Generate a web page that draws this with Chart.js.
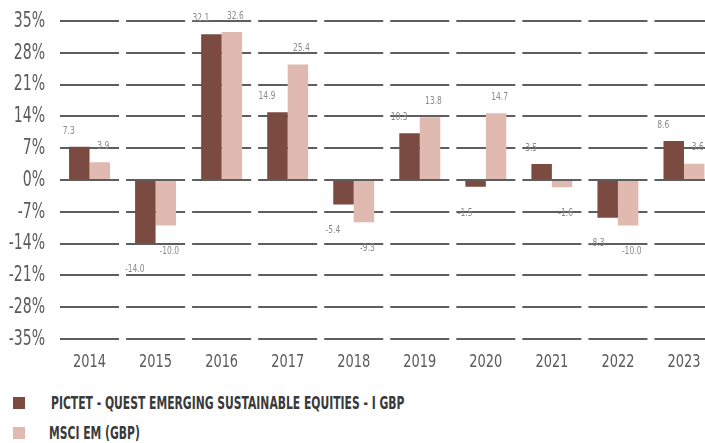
<!DOCTYPE html>
<html>
<head>
<meta charset="utf-8">
<script src="https://cdn.jsdelivr.net/npm/chart.js@4/dist/chart.umd.min.js"></script>
<style>
    body { margin: 0; background: #fff; overflow: hidden; width: 705px; height: 443px; position: relative; }
    #wrap { position: absolute; left: 0; top: 0; width: 717px; height: 385px; }
    .legend-box { position: absolute; width: 12px; height: 12px; }
    .legend-text { position: absolute; height: 22px; line-height: 22px; white-space: nowrap;
        font-family: "DejaVu Sans Condensed", sans-serif; font-weight: bold; font-size: 17px; color: #3a3a3a;
        transform: scaleX(0.705); transform-origin: left center; }
</style>
</head>
<body>
<div id="wrap"><canvas id="perf-chart" width="717" height="385"></canvas></div>
<div id="legend"></div>
<script>
const years = ['2014', '2015', '2016', '2017', '2018', '2019', '2020', '2021', '2022', '2023'];
const fundName = 'PICTET - QUEST EMERGING SUSTAINABLE EQUITIES - I GBP';
const indexName = 'MSCI EM (GBP)';
const fundValues = [7.3, -14.0, 32.1, 14.9, -5.4, 10.3, -1.5, 3.5, -8.3, 8.6];
const indexValues = [3.9, -10.0, 32.6, 25.4, -9.3, 13.8, 14.7, -1.6, -10.0, 3.6];
const yTicks = [-35, -28, -21, -14, -7, 0, 7, 14, 21, 28, 35];

const FONT = '"DejaVu Sans Condensed", sans-serif';

// draw text squeezed horizontally (the original uses a narrow typeface)
function narrowText(ctx, text, x, y, sx) {
    ctx.save();
    ctx.scale(sx, 1);
    ctx.fillText(text, x / sx, y);
    ctx.restore();
}

// cut the horizontal grid lines into one segment per year
const gridGaps = {
    id: 'gridGaps',
    beforeDatasetsDraw(chart) {
        const ctx = chart.ctx;
        const area = chart.chartArea;
        const x = chart.scales.x;
        ctx.save();
        ctx.fillStyle = '#ffffff';
        for (let i = 0; i <= years.length; i++) {
            let bx;
            if (i === 0) bx = area.left;
            else if (i === years.length) bx = area.right;
            else bx = (x.getPixelForValue(i - 1) + x.getPixelForValue(i)) / 2;
            ctx.fillRect(bx - 3.5, area.top - 3, 7, area.bottom - area.top + 6);
        }
        ctx.restore();
    }
};

// axis tick labels, placed with the chart's own scales
const narrowTicks = {
    id: 'narrowTicks',
    afterDraw(chart) {
        const ctx = chart.ctx;
        const area = chart.chartArea;
        const xs = chart.scales.x;
        const ys = chart.scales.y;
        ctx.save();
        ctx.fillStyle = '#5a5a5a';
        ctx.textBaseline = 'middle';

        ctx.font = '18px ' + FONT;
        ctx.textAlign = 'center';
        xs.ticks.forEach((t, i) => {
            narrowText(ctx, xs.getLabelForValue(t.value), xs.getPixelForTick(i), area.bottom + 23, 0.8);
        });

        ctx.font = '22px ' + FONT;
        ctx.textAlign = 'right';
        ys.ticks.forEach((t, i) => {
            narrowText(ctx, t.value + '%', area.left - 11.5, ys.getPixelForTick(i), 0.71);
        });
        ctx.restore();
    }
};

// value labels above / below the bars
const valueLabels = {
    id: 'valueLabels',
    afterDatasetsDraw(chart) {
        const ctx = chart.ctx;
        const shiftX = [-10.5, 3.5];
        ctx.save();
        ctx.font = '10.5px ' + FONT;
        ctx.fillStyle = '#8a8a8a';
        ctx.textAlign = 'center';
        ctx.textBaseline = 'middle';
        chart.data.datasets.forEach((ds, di) => {
            chart.getDatasetMeta(di).data.forEach((bar, i) => {
                const v = ds.data[i];
                const y = v >= 0 ? bar.y - 16 : bar.y + 26;
                narrowText(ctx, v.toFixed(1), bar.x + shiftX[di], y, 0.8);
            });
        });
        ctx.restore();
    }
};

const ctx = document.getElementById('perf-chart').getContext('2d');
const perfChart = new Chart(ctx, {
    type: 'bar',
    data: {
        labels: years,
        datasets: [
            {
                label: fundName,
                data: fundValues,
                backgroundColor: '#7b4a41',
                barPercentage: 1,
                categoryPercentage: 0.62
            },
            {
                label: indexName,
                data: indexValues,
                backgroundColor: '#e0b9b0',
                barPercentage: 1,
                categoryPercentage: 0.62
            }
        ]
    },
    options: {
        responsive: false,
        animation: false,
        layout: {
            padding: { top: 21, right: 0, left: 0, bottom: 0 }
        },
        plugins: {
            legend: { display: false },
            tooltip: { enabled: false }
        },
        scales: {
            x: {
                grid: { display: false },
                border: { display: false },
                ticks: { display: false },
                afterFit(scale) { scale.height = 46; }
            },
            y: {
                min: -35,
                max: 35,
                afterBuildTicks(scale) {
                    scale.ticks = yTicks.map(v => ({ value: v }));
                },
                grid: {
                    color: '#5e5e5e',
                    lineWidth: 2,
                    drawTicks: false
                },
                border: { display: false },
                ticks: { display: false },
                afterFit(scale) { scale.width = 56.5; }
            }
        }
    },
    plugins: [gridGaps, narrowTicks, valueLabels]
});

// legend built from the chart datasets
const legendPos = [
    { box: [13, 397], text: [51, 403] },
    { box: [13, 427], text: [49, 433] }
];
const legendDiv = document.getElementById('legend');
perfChart.data.datasets.forEach((ds, i) => {
    const p = legendPos[i];
    const box = document.createElement('div');
    box.className = 'legend-box';
    box.style.left = p.box[0] + 'px';
    box.style.top = p.box[1] + 'px';
    box.style.background = ds.backgroundColor;
    legendDiv.appendChild(box);

    const label = document.createElement('div');
    label.className = 'legend-text';
    label.textContent = ds.label;
    label.style.left = p.text[0] + 'px';
    label.style.top = (p.text[1] - 11) + 'px';
    legendDiv.appendChild(label);
});
</script>
</body>
</html>
